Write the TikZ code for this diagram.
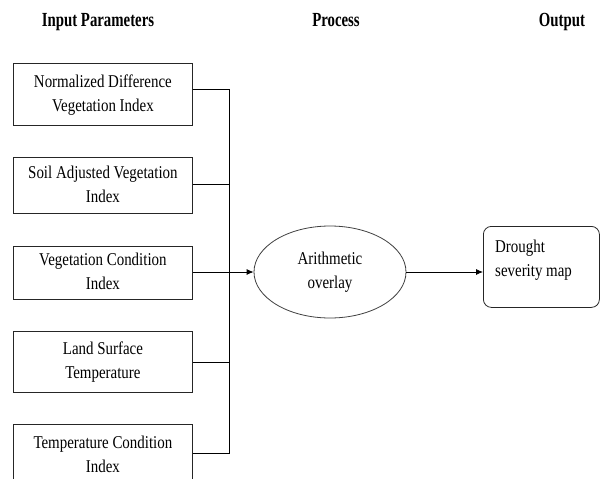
\documentclass[tikz,border=0pt]{standalone}
\usepackage{fontspec}
\setmainfont{Liberation Serif}
\usetikzlibrary{shapes.geometric,arrows.meta}
\tikzset{
  inbox/.style={draw=black!85, line width=0.8pt, inner sep=0pt, minimum width=179pt, anchor=north west},
  hdr/.style={inner sep=0pt, anchor=base, font=\fontsize{20}{24}\selectfont\bfseries},
  conn/.style={draw=black, line width=0.8pt},
  arr/.style={conn, -{Latex[length=7pt,width=6pt]}},
}
\newcommand{\btxt}[1]{\scalebox{0.83}[1]{\begin{tabular}{@{}c@{}}#1\end{tabular}}}
\begin{document}
\begin{tikzpicture}[x=1pt,y=-1pt,font=\fontsize{18}{24}\selectfont]
\useasboundingbox (0,0) rectangle (600,479);
% headers
\node[hdr] (h1) at (98,26) {\scalebox{0.74}[1]{Input Parameters}};
\node[hdr] (h2) at (336,26) {\scalebox{0.74}[1]{Process}};
\node[hdr] (h3) at (562,26) {\scalebox{0.74}[1]{Output}};
% input boxes
\node[inbox, minimum height=62pt] (b1) at (13,63) {\btxt{Normalized Difference\\Vegetation Index}};
\node[inbox, minimum height=56pt] (b2) at (13,157) {\btxt{Soil Adjusted Vegetation\\Index}};
\node[inbox, minimum height=53pt] (b3) at (13,246) {\btxt{Vegetation Condition\\Index}};
\node[inbox, minimum height=61pt] (b4) at (13,331) {\btxt{Land Surface\\Temperature}};
\node[inbox, minimum height=62pt] (b5) at (13,424) {\btxt{Temperature Condition\\Index}};
% process
\node[ellipse, draw=black!75, line width=0.8pt, minimum width=152pt, minimum height=92pt, inner sep=0pt] (ell) at (330,272) {\btxt{Arithmetic\\overlay}};
% output
\node[draw=black!85, line width=0.8pt, rounded corners=8pt, minimum width=116pt, minimum height=81pt, inner sep=0pt, anchor=north west] (out) at (483,226) {};
\node[anchor=base west, inner sep=0pt] (outt) at (495,252) {\scalebox{0.83}[1]{\begin{tabular}[t]{@{}l@{}}Drought\\severity map\end{tabular}}};
% bus
\coordinate (bus) at (229,0);
\coordinate (b1c) at ([yshift=5pt]b1.east);
\coordinate (b2c) at ([yshift=1pt]b2.east);
\coordinate (b5c) at ([yshift=2pt]b5.east);
\draw[conn] (b1c) -- (b1c -| bus) -- (b5c -| bus) -- (b5c);
\draw[conn] (b2c) -- (b2c -| bus);
\draw[conn] (b4.east) -- (b4.east -| bus);
\draw[arr] (b3.east |- ell.west) -- (ell.west);
\draw[arr] (ell.east) -- (ell.east -| out.west);
\end{tikzpicture}
\end{document}
